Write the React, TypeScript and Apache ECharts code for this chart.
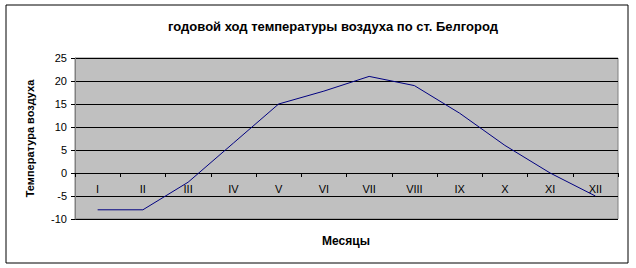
import React, { useEffect, useRef } from "react";
import * as echarts from "echarts";

const months = ["I", "II", "III", "IV", "V", "VI", "VII", "VIII", "IX", "X", "XI", "XII"];
const temperatures = [-8, -8, -2, 6.5, 15, 17.8, 21, 19, 13, 6, 0, -5];
const titleText = "годовой ход температуры воздуха по ст. Белгород";
const yAxisTitle = "Температура воздуха";
const xAxisTitle = "Месяцы";

export default function App() {
  const ref = useRef<HTMLDivElement>(null);
  useEffect(() => {
    if (!ref.current) return;
    const chart = echarts.init(ref.current, null, { renderer: "svg" });
    const font = "Liberation Sans, Arial, sans-serif";
    chart.setOption({
      animation: false,
      backgroundColor: "#ffffff",
      title: {
        text: titleText,
        left: 328,
        top: 15,
        textAlign: "center",
        textStyle: { fontFamily: font, fontSize: 13, fontWeight: "bold", color: "#000" },
      },
      graphic: [
        {
          type: "rect",
          shape: { x: 6, y: 5, width: 622, height: 258 },
          style: { fill: "none", stroke: "#000", lineWidth: 1 },
          silent: true,
          z: -1,
        },
        {
          type: "text",
          x: 346,
          y: 241,
          style: {
            text: xAxisTitle,
            font: "bold 12px Liberation Sans, Arial, sans-serif",
            fill: "#000",
            align: "center",
            verticalAlign: "middle",
          },
        },
      ],
      grid: {
        left: 75,
        right: 18,
        top: 58,
        bottom: 49,
        show: true,
        backgroundColor: "#c0c0c0",
        borderColor: "#808080",
        borderWidth: 1,
      },
      xAxis: {
        type: "category",
        data: months,
        boundaryGap: true,
        position: "bottom",
        offset: -46,
        axisLine: { onZero: false, lineStyle: { color: "#000", width: 1 } },
        axisTick: { show: true, inside: false, length: 4, lineStyle: { color: "#000" } },
        axisLabel: { fontFamily: font, fontSize: 11, color: "#000", margin: 10 },
        splitLine: { show: false },
        z: 5,
      },
      yAxis: {
        type: "value",
        min: -10,
        max: 25,
        interval: 5,
        name: yAxisTitle,
        nameLocation: "middle",
        nameGap: 40,
        nameRotate: 90,
        nameTextStyle: { fontFamily: font, fontSize: 11, fontWeight: "bold", color: "#000" },
        axisLine: { show: true, lineStyle: { color: "#808080" } },
        axisTick: { show: true, length: 4, lineStyle: { color: "#000" } },
        axisLabel: { fontFamily: font, fontSize: 11, color: "#000", margin: 8 },
        splitLine: { show: true, lineStyle: { color: "#000", width: 1 } },
      },
      series: [
        {
          type: "line",
          data: temperatures,
          showSymbol: false,
          symbol: "none",
          lineStyle: { color: "#000080", width: 1 },
          z: 10,
        },
      ],
    });
    return () => chart.dispose();
  }, []);
  return (
    <div
      ref={ref}
      style={{ position: "fixed", left: 0, top: 0, width: 636, height: 268 }}
    />
  );
}
